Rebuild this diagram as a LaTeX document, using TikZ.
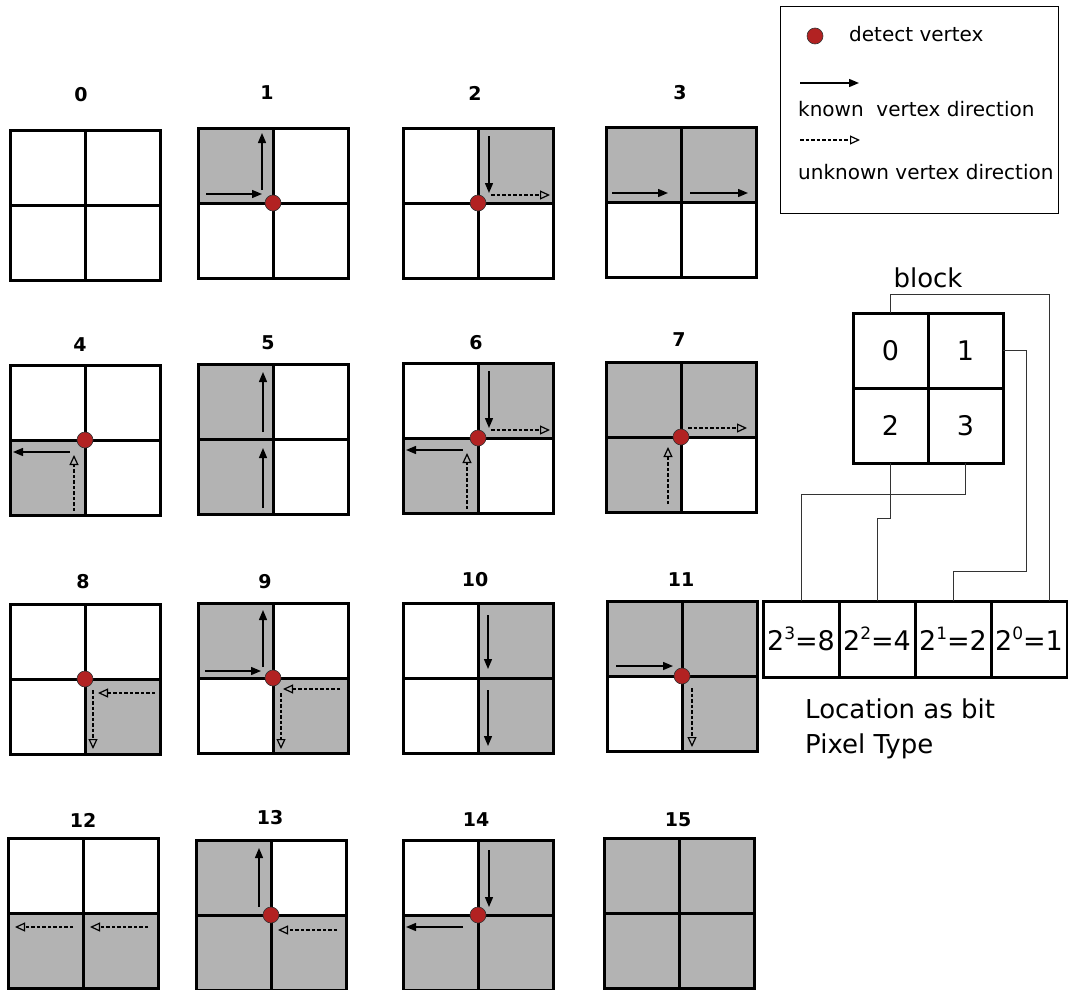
\documentclass[tikz,border=0pt]{standalone}
\usepackage{fontspec}
\setmainfont{DejaVu Sans}
\usetikzlibrary{arrows.meta,positioning}

\definecolor{pixgray}{HTML}{B3B3B3}
\definecolor{vertexred}{HTML}{B22222}

% 2x2 pixel block outline, 150 x 150
\newcommand{\pixgrid}{\draw[grid] (0,0) rectangle (150,150) (75,0) -- (75,150) (0,75) -- (150,75);}
% power of two with a raised exponent
\newcommand{\pow}[1]{2\raisebox{0.42em}{\fontsize{17}{17}\selectfont #1}}

\begin{document}
\begin{tikzpicture}[x=1pt, y=-1pt,
    grid/.style={line width=3pt},
    known/.style={line width=1.4pt, -{Triangle[length=10pt,width=8pt]}},
    unknown/.style={line width=1.2pt, dash pattern=on 3.5pt off 2pt, -{Triangle[open,length=10pt,width=9pt]}},
    vertex/.style={circle, draw=black!80, line width=0.6pt, fill=vertexred, minimum size=16pt, inner sep=0pt},
    blocklabel/.style={font=\fontsize{19}{22}\selectfont\bfseries},
    legendtext/.style={anchor=west, inner sep=0pt, font=\fontsize{20}{24}\selectfont},
    bigtext/.style={font=\fontsize{26}{35}\selectfont},
    cell/.style={draw, line width=3pt, outer sep=0pt, minimum size=75pt, inner sep=0pt, font=\fontsize{27}{32}\selectfont},
    bitcell/.style={draw, line width=3pt, outer sep=0pt, minimum width=76pt, minimum height=76pt, inner sep=0pt, font=\fontsize{27}{30}\selectfont},
    wire/.style={line width=1pt, black!80}]

\useasboundingbox (0,0) rectangle (1068,990);

% block labels
\node[blocklabel] (lab0) at (81,95) {0};
\node[blocklabel] (lab1) at (267,93) {1};
\node[blocklabel] (lab2) at (475,93) {2};
\node[blocklabel] (lab3) at (680,93) {3};
\node[blocklabel] (lab4) at (80,345) {4};
\node[blocklabel] (lab5) at (268,343) {5};
\node[blocklabel] (lab6) at (476,343) {6};
\node[blocklabel] (lab7) at (679,340) {7};
\node[blocklabel] (lab8) at (83,582) {8};
\node[blocklabel] (lab9) at (265,582) {9};
\node[blocklabel] (lab10) at (475,580) {10};
\node[blocklabel] (lab11) at (681,580) {11};
\node[blocklabel] (lab12) at (83,820) {12};
\node[blocklabel] (lab13) at (270,818) {13};
\node[blocklabel] (lab14) at (476,820) {14};
\node[blocklabel] (lab15) at (678,820) {15};

% type 0
\begin{scope}[shift={(10,130)}]
  \pixgrid
\end{scope}

% type 1
\begin{scope}[shift={(198,128)}]
  \fill[pixgray] (0,0) rectangle (75,75);
  \pixgrid
  \draw[known] (8,66) -- (64,66);
  \draw[known] (64,62) -- (64,5);
  \node[vertex] (v1) at (75,75) {};
\end{scope}

% type 2
\begin{scope}[shift={(403,128)}]
  \fill[pixgray] (75,0) rectangle (150,75);
  \pixgrid
  \draw[known] (86,8) -- (86,65);
  \draw[unknown] (88,67) -- (147,67);
  \node[vertex] (v2) at (75,75) {};
\end{scope}

% type 3
\begin{scope}[shift={(606,127)}]
  \fill[pixgray] (0,0) rectangle (150,75);
  \pixgrid
  \draw[known] (6,66) -- (62,66);
  \draw[known] (84,66) -- (142,66);
\end{scope}

% type 4
\begin{scope}[shift={(10,365)}]
  \fill[pixgray] (0,75) rectangle (75,150);
  \pixgrid
  \draw[known] (60,87) -- (3,87);
  \draw[unknown] (64,146) -- (64,90);
  \node[vertex] (v4) at (75,75) {};
\end{scope}

% type 5
\begin{scope}[shift={(198,364)}]
  \fill[pixgray] (0,0) rectangle (75,150);
  \pixgrid
  \draw[known] (65,68) -- (65,8);
  \draw[known] (65,144) -- (65,84);
\end{scope}

% type 6
\begin{scope}[shift={(403,363)}]
  \fill[pixgray] (75,0) rectangle (150,75) (0,75) rectangle (75,150);
  \pixgrid
  \draw[known] (86,8) -- (86,65);
  \draw[unknown] (88,67) -- (147,67);
  \draw[known] (60,87) -- (3,87);
  \draw[unknown] (64,146) -- (64,90);
  \node[vertex] (v6) at (75,75) {};
\end{scope}

% type 7
\begin{scope}[shift={(606,362)}]
  \fill[pixgray] (0,0) rectangle (150,75) (0,75) rectangle (75,150);
  \pixgrid
  \draw[unknown] (82,66) -- (141,66);
  \draw[unknown] (62,142) -- (62,85);
  \node[vertex] (v7) at (75,75) {};
\end{scope}

% type 8
\begin{scope}[shift={(10,604)}]
  \fill[pixgray] (75,75) rectangle (150,150);
  \pixgrid
  \draw[unknown] (145,89) -- (88,89);
  \draw[unknown] (83,86) -- (83,145);
  \node[vertex] (v8) at (75,75) {};
\end{scope}

% type 9
\begin{scope}[shift={(198,603)}]
  \fill[pixgray] (0,0) rectangle (75,75) (75,75) rectangle (150,150);
  \pixgrid
  \draw[known] (7,68) -- (63,68);
  \draw[known] (65,64) -- (65,7);
  \draw[unknown] (142,86) -- (85,86);
  \draw[unknown] (83,90) -- (83,146);
  \node[vertex] (v9) at (75,75) {};
\end{scope}

% type 10
\begin{scope}[shift={(403,603)}]
  \fill[pixgray] (75,0) rectangle (150,150);
  \pixgrid
  \draw[known] (85,12) -- (85,66);
  \draw[known] (85,87) -- (85,143);
\end{scope}

% type 11
\begin{scope}[shift={(607,601)}]
  \fill[pixgray] (0,0) rectangle (150,75) (75,75) rectangle (150,150);
  \pixgrid
  \draw[known] (9,65) -- (66,65);
  \draw[unknown] (85,87) -- (85,146);
  \node[vertex] (v11) at (75,75) {};
\end{scope}

% type 12
\begin{scope}[shift={(8,838)}]
  \fill[pixgray] (0,75) rectangle (150,150);
  \pixgrid
  \draw[unknown] (65,89) -- (7,89);
  \draw[unknown] (140,89) -- (82,89);
\end{scope}

% type 13
\begin{scope}[shift={(196,840)}]
  \fill[pixgray] (0,0) rectangle (75,75) (0,75) rectangle (150,150);
  \pixgrid
  \draw[known] (63,67) -- (63,8);
  \draw[unknown] (141,90) -- (82,90);
  \node[vertex] (v13) at (75,75) {};
\end{scope}

% type 14
\begin{scope}[shift={(403,840)}]
  \fill[pixgray] (75,0) rectangle (150,75) (0,75) rectangle (150,150);
  \pixgrid
  \draw[known] (86,10) -- (86,67);
  \draw[known] (60,87) -- (3,87);
  \node[vertex] (v14) at (75,75) {};
\end{scope}

% type 15
\begin{scope}[shift={(604,838)}]
  \fill[pixgray] (0,0) rectangle (150,150);
  \pixgrid
\end{scope}

% legend
\draw[line width=1pt] (780,7) rectangle (1058,213);
\node[vertex] (ldot) at (815,36) {};
\node[legendtext] (ltext1) at (849,34) {detect vertex};
\coordinate (ka) at (800,83);
\coordinate (kb) at (859,83);
\draw[known] (ka) -- (kb);
\node[legendtext] (ltext2) at (798,109) {known\ \ vertex direction};
\coordinate (ua) at (800,140);
\coordinate (ub) at (860,140);
\draw[unknown] (ua) -- (ub);
\node[legendtext] (ltext3) at (798,172) {unknown vertex direction};

% block with cell positions
\node[cell] (c0) at (890.5,350.5) {0};
\node[cell, right=0pt of c0] (c1) {1};
\node[cell, below=0pt of c0] (c2) {2};
\node[cell, right=0pt of c2] (c3) {3};
\node[bigtext] (blk) at (928,278) {block};

% bit weights
\node[bitcell] (b3) at (801,639) {\pow{3}=8};
\node[bitcell, right=0pt of b3] (b2) {\pow{2}=4};
\node[bitcell, right=0pt of b2] (b1) {\pow{1}=2};
\node[bitcell, right=0pt of b1] (b0) {\pow{0}=1};
\node[bigtext, anchor=north west, align=left, inner sep=0pt] (loc) at (805,699) {Location as bit\\Pixel Type};

% wires from cells to bits
\draw[wire] (c0.north) -- ++(0,-19) -| ([xshift=20pt]b0.north);
\draw[wire] (c1.east) -- ++(23,0) |- ([yshift=30pt]b1.north) -- (b1.north);
\draw[wire] (c2.south) -- ++(0,55) -| (b2.north);
\draw[wire] (c3.south) -- ++(0,31) -| (b3.north);

\end{tikzpicture}
\end{document}
